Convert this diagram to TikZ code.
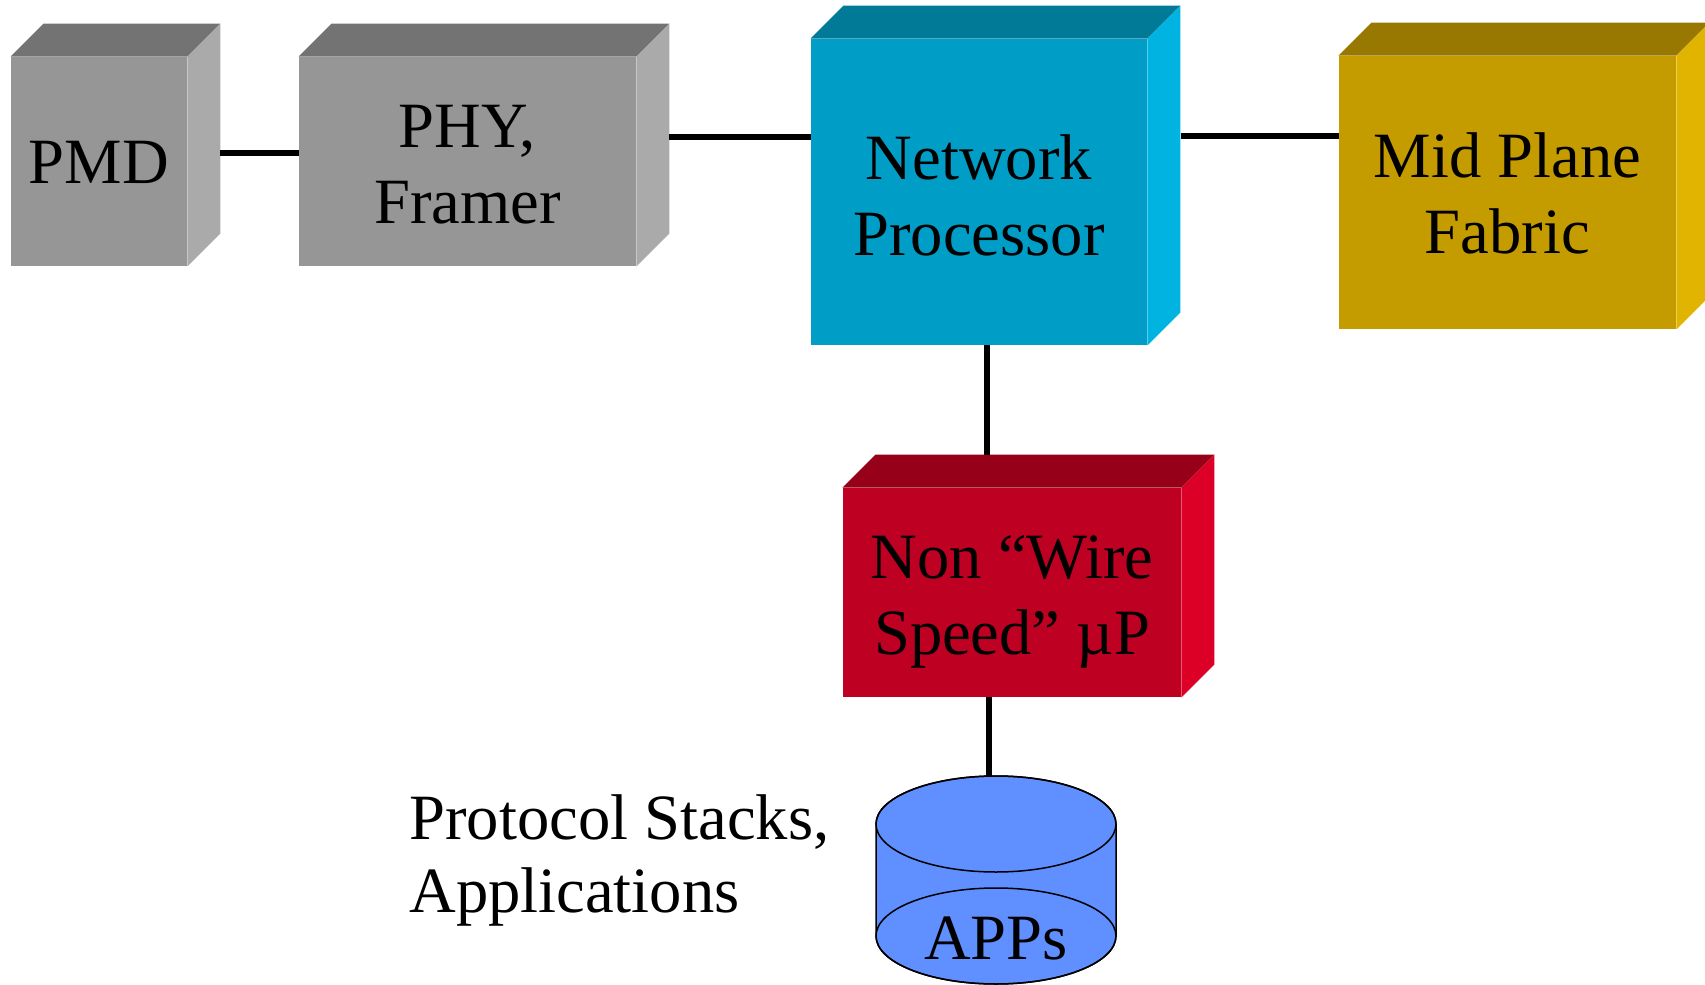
\documentclass[tikz,border=0pt]{standalone}
\usepackage{fontspec}
\setmainfont{Liberation Serif}
\usetikzlibrary{calc,shapes.geometric}
\definecolor{grayF}{HTML}{969696}\definecolor{grayT}{HTML}{737373}\definecolor{grayR}{HTML}{AAAAAA}
\definecolor{cyanF}{HTML}{009DC6}\definecolor{cyanT}{HTML}{007A96}\definecolor{cyanR}{HTML}{00B3E0}
\definecolor{goldF}{HTML}{C49C00}\definecolor{goldT}{HTML}{987800}\definecolor{goldR}{HTML}{E0B400}
\definecolor{redF}{HTML}{BE0022}\definecolor{redT}{HTML}{960018}\definecolor{redR}{HTML}{DD0026}
\definecolor{cylF}{HTML}{6090FF}
\tikzset{
  facebox/.style={inner sep=0pt},
  facetext/.style={inner sep=0pt, align=center, font=\fontsize{32.3}{38}\selectfont},
  conn/.style={line width=3pt},
  label/.style={inner sep=0pt, align=left, anchor=north west, font=\fontsize{32.3}{36.5}\selectfont},
}
\newcommand\boxfaces[3]{% node, top colour, right colour
  \fill[#2] (#1.north west) -- ++(33,-33) -- ($(#1.north east)+(33,-33)$) -- (#1.north east) -- cycle;
  \fill[#3] (#1.north east) -- ++(33,-33) -- ($(#1.south east)+(33,-33)$) -- (#1.south east) -- cycle;
}
\begin{document}
\begin{tikzpicture}[x=0.5pt,y=-0.5pt]
\useasboundingbox (0,0) rectangle (1705,985);
% boxes
\node[facebox, fill=grayF, minimum width=88pt, minimum height=104.5pt] (pmd) at (99,161.5) {};
\boxfaces{pmd}{grayT}{grayR}
\node[facetext] (pmdtext) at ([yshift=-0.5pt]pmd.center) {PMD};
\node[facebox, fill=grayF, minimum width=168.5pt, minimum height=104.5pt] (phy) at (467.5,161.5) {};
\boxfaces{phy}{grayT}{grayR}
\node[facetext] (phytext) at ([yshift=-1.75pt]phy.center) {PHY,\\Framer};
\node[facebox, fill=cyanF, minimum width=168pt, minimum height=153pt] (np) at (979,192) {};
\boxfaces{np}{cyanT}{cyanR}
\node[facetext] (nptext) at ([yshift=-1.5pt]np.center) {Network\\Processor};
\node[facebox, fill=goldF, minimum width=168.5pt, minimum height=136.5pt] (mpf) at (1507.5,192.5) {};
\boxfaces{mpf}{goldT}{goldR}
\node[facetext] (mpftext) at ([yshift=-0.5pt]mpf.center) {Mid Plane\\Fabric};
\node[facebox, fill=redF, minimum width=169pt, minimum height=104.5pt] (up) at (1012,592.5) {};
\boxfaces{up}{redT}{redR}
\node[facetext] (uptext) at ([yshift=-4.5pt]up.center) {Non “Wire\\Speed” µP};
% cylinder
\coordinate (cyltop) at (996,776);
\filldraw[fill=cylF, line width=0.75pt] (876,824) -- (876,936) arc[start angle=180, end angle=360, x radius=60pt, y radius=24pt] -- (1116,824) arc[start angle=0, end angle=180, x radius=60pt, y radius=24pt] -- cycle;
\draw[line width=0.75pt] (996,824) ellipse[x radius=60pt, y radius=24pt];
\draw[line width=0.75pt] (996,936) ellipse[x radius=60pt, y radius=24pt];
\node[facetext, anchor=base] (apps) at (996,959) {APPs};
% label
\node[label] (lbl) at (409,794) {Protocol Stacks,\\Applications};
% connectors
\coordinate (c1) at (220,153);
\draw[conn] (c1) -- (phy.west |- c1);
\coordinate (c2) at (669,137);
\draw[conn] (c2) -- (np.west |- c2);
\coordinate (c3) at (1181,136);
\draw[conn] (c3) -- (mpf.west |- c3);
\coordinate (c4) at (987,455);
\draw[conn] (np.south -| c4) -- (c4);
\coordinate (c5) at (989,697);
\draw[conn] (c5) -- (c5 |- cyltop);
\end{tikzpicture}
\end{document}
